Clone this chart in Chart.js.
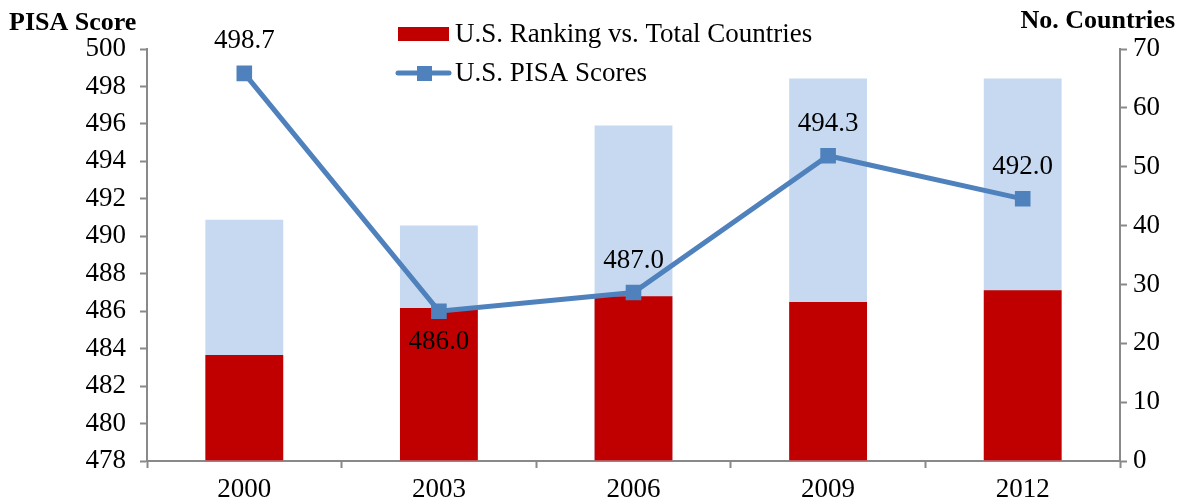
<!DOCTYPE html>
<html>
<head>
<meta charset="utf-8">
<script src="https://cdn.jsdelivr.net/npm/chart.js@4.4.1/dist/chart.umd.min.js"></script>
<style>
  html, body { margin: 0; padding: 0; background: #fff; }
  #wrap { width: 1183px; height: 504px; }
</style>
</head>
<body>
<div id="wrap"><canvas id="chart" width="1183" height="504"></canvas></div>
<script>
"use strict";

const years = ['2000', '2003', '2006', '2009', '2012']
const usRanking = [18, 26, 28, 27, 29]
const totalCountries = [41, 40, 57, 65, 65]
const pisaScores = [498.7, 486.0, 487.0, 494.3, 492.0]
const labelBelow = [false, true, false, false, false]

const FONT = "'Liberation Serif', 'Times New Roman', serif"
const AXIS = '#898989'

// titles, legend and value labels drawn by hand
const extras = {
    id: 'extras',
    afterDraw: chart => {
        const ctx = chart.ctx
        ctx.save()
        ctx.fillStyle = '#000'
        ctx.textBaseline = 'middle'
        ctx.font = 'bold 26px ' + FONT
        ctx.textAlign = 'left'
        ctx.fillText('PISA Score', 9, 23)
        ctx.textAlign = 'right'
        ctx.fillText('No. Countries', 1175, 21)

        // legend
        ctx.fillStyle = '#C00000'
        ctx.fillRect(398, 27, 51, 14)
        ctx.strokeStyle = '#4F81BD'
        ctx.lineWidth = 5
        ctx.lineCap = 'round'
        ctx.beginPath()
        ctx.moveTo(398, 73)
        ctx.lineTo(449, 73)
        ctx.stroke()
        ctx.fillStyle = '#4F81BD'
        ctx.fillRect(417, 66, 15, 15)
        ctx.fillStyle = '#000'
        ctx.textAlign = 'left'
        ctx.font = '27px ' + FONT
        ctx.fillText('U.S. Ranking vs. Total Countries', 455, 35)
        ctx.fillText('U.S. PISA Scores', 455, 74)

        // value labels
        const meta = chart.getDatasetMeta(0)
        ctx.textAlign = 'center'
        meta.data.forEach((pt, i) => {
            const dy = labelBelow[i] ? 31 : -32
            ctx.fillText(pisaScores[i].toFixed(1), pt.x, pt.y + dy)
        })
        ctx.restore()
    }
}

new Chart(document.getElementById('chart'), {
    type: 'bar',
    data: {
        labels: years,
        datasets: [
            {
                type: 'line',
                label: 'U.S. PISA Scores',
                data: pisaScores,
                yAxisID: 'y',
                borderColor: '#4F81BD',
                backgroundColor: '#4F81BD',
                borderWidth: 5,
                pointStyle: 'rect',
                pointRadius: 7.5,
                pointHoverRadius: 7.5,
                tension: 0,
                order: 0
            },
            {
                label: 'U.S. Ranking vs. Total Countries',
                data: usRanking,
                yAxisID: 'y1',
                backgroundColor: '#C00000',
                grouped: false,
                categoryPercentage: 1,
                barPercentage: 0.4,
                order: 1
            },
            {
                label: 'Total Countries',
                data: totalCountries,
                yAxisID: 'y1',
                backgroundColor: '#C6D9F1',
                grouped: false,
                categoryPercentage: 1,
                barPercentage: 0.4,
                order: 2
            }
        ]
    },
    options: {
        responsive: false,
        animation: false,
        layout: { padding: { top: 49, left: 0, right: 0, bottom: 0 } },
        plugins: {
            legend: { display: false },
            tooltip: { enabled: false }
        },
        scales: {
            x: {
                offset: true,
                grid: { offset: true, drawOnChartArea: false, color: AXIS, tickLength: 7, tickWidth: 2 },
                border: { color: AXIS, width: 2 },
                ticks: { color: '#000', font: { family: FONT, size: 27 }, padding: 6 },
                afterFit: s => { s.height = 43 }
            },
            y: {
                position: 'left',
                min: 478,
                max: 500,
                ticks: { stepSize: 2, color: '#000', font: { family: FONT, size: 27 }, padding: 14 },
                grid: { drawOnChartArea: false, color: AXIS, tickLength: 7, tickWidth: 2 },
                border: { color: AXIS, width: 2 },
                afterFit: s => { s.width = 147 }
            },
            y1: {
                position: 'right',
                min: 0,
                max: 70,
                ticks: { stepSize: 10, color: '#000', font: { family: FONT, size: 27 }, padding: 6 },
                grid: { drawOnChartArea: false, color: AXIS, tickLength: 7, tickWidth: 2 },
                border: { color: AXIS, width: 2 },
                afterFit: s => { s.width = 63 }
            }
        }
    },
    plugins: [extras]
});
</script>
</body>
</html>
